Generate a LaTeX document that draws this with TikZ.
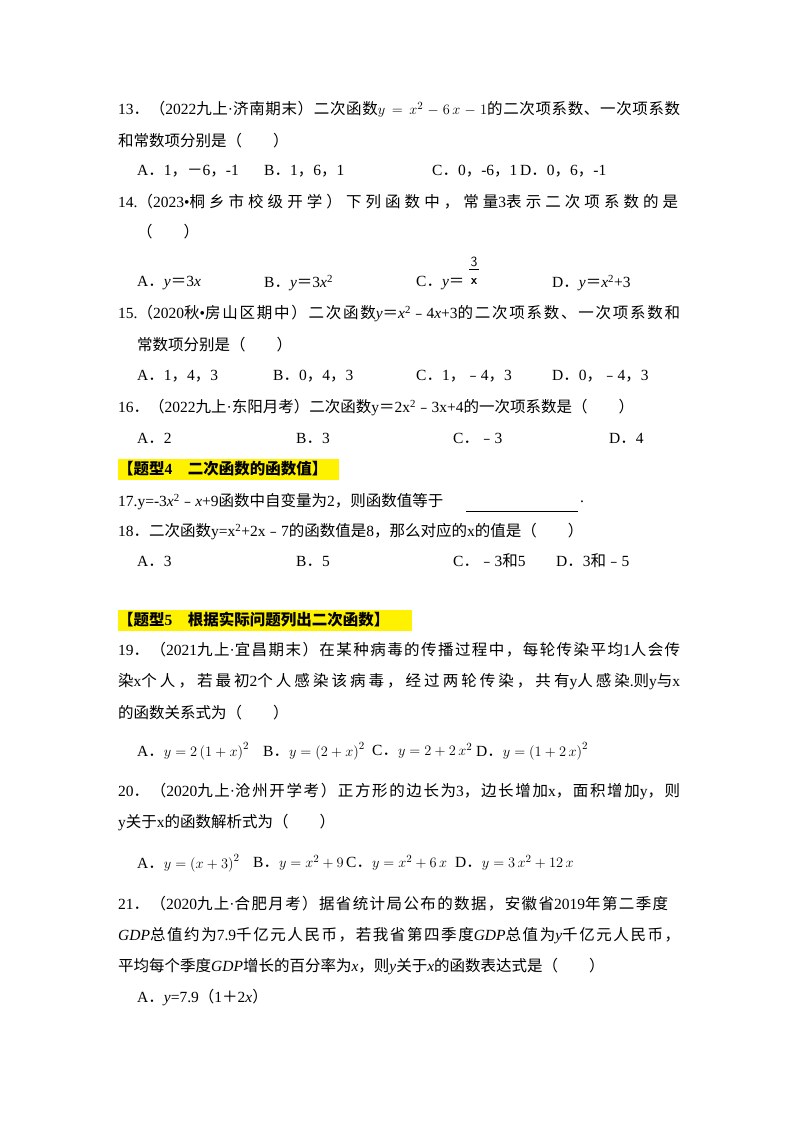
\documentclass[tikz,border=0pt]{standalone}
\usepackage{fontspec}
\setmainfont{Liberation Serif}
\newfontfamily\cjk{Noto Sans CJK SC}
\XeTeXinterchartokenstate=1
\newXeTeXintercharclass\CJKcls
\count255="4E00 \loop \XeTeXcharclass\count255=\CJKcls \ifnum\count255<"9FFF \advance\count255 1 \repeat
\count255="FF00 \loop \XeTeXcharclass\count255=\CJKcls \ifnum\count255<"FFEF \advance\count255 1 \repeat
\count255="3000 \loop \XeTeXcharclass\count255=\CJKcls \ifnum\count255<"303F \advance\count255 1 \repeat
\count255="FE30 \loop \XeTeXcharclass\count255=\CJKcls \ifnum\count255<"FE6F \advance\count255 1 \repeat
\XeTeXinterchartoks 0 \CJKcls = {\cjk}
\XeTeXinterchartoks 4095 \CJKcls = {\cjk}
\XeTeXinterchartoks \CJKcls 0 = {\rmfamily}
\XeTeXinterchartoks \CJKcls 4095 = {\rmfamily}
\XeTeXinterchartoks \CJKcls \CJKcls = {\hskip 0pt plus 1pt}
\newcommand{\fl}[1]{\makebox[562pt][s]{#1}}
\begin{document}
\begin{tikzpicture}[x=1pt,y=-1pt,
  t/.style={anchor=west,inner sep=0pt,font=\fontsize{15.5}{18}\selectfont}]
\useasboundingbox (0,0) rectangle (800,1132);
\fill[yellow] (118,459) rectangle (339,480);
\fill[yellow] (118,610) rectangle (412,631);
% 13
\node[t] (q13a) at (118,109) {\fl{13．（2022九上·济南期末）二次函数$y=x^2-6\,x-1$的二次项系数、一次项系数}};
\node[t] (q13b) at (118,141) {和常数项分别是（　　）};
\node[t] (q13A) at (137,171) {A．1，－6，-1};
\node[t] (q13B) at (264,171) {B．1，6，1};
\node[t] (q13C) at (432,171) {C．0，-6，1};
\node[t] (q13D) at (520,171) {D．0，6，-1};
% 14
\node[t] (q14a) at (118,202) {\makebox[560pt][s]{14.（2023•桐乡市校级开学）下列函数中，常量3表示二次项系数的是}};
\node[t] (q14b) at (137,232) {（　　）};
\node[t] (q14A) at (137,283) {A．\textit{y}＝3\textit{x}};
\node[t] (q14B) at (264,283) {B．\textit{y}＝3\textit{x}\textsuperscript{2}};
\node[t] (q14C) at (416,283) {C．\textit{y}＝};
\node[anchor=center,inner sep=0pt,font=\fontsize{14}{16}\selectfont\sffamily] (q14n) at (474,262) {3};
\node[anchor=center,inner sep=0pt,font=\fontsize{13}{16}\selectfont\sffamily\bfseries] (q14d) at (474,282) {x};
\draw[line width=0.6pt] ([yshift=-2pt,xshift=-5pt]q14n.south) -- ([yshift=-2pt,xshift=5pt]q14n.south);
\node[t] (q14D) at (552,283) {D．\textit{y}＝\textit{x}\textsuperscript{2}+3};
% 15
\node[t] (q15a) at (118,314) {\fl{15.（2020秋•房山区期中）二次函数\textit{y}＝\textit{x}\textsuperscript{2}﹣4\textit{x}+3的二次项系数、一次项系数和}};
\node[t] (q15b) at (137,345) {常数项分别是（　　）};
\node[t] (q15A) at (137,376) {A．1，4，3};
\node[t] (q15B) at (273,376) {B．0，4，3};
\node[t] (q15C) at (416,376) {C．1，﹣4，3};
\node[t] (q15D) at (552,376) {D．0，﹣4，3};
% 16
\node[t] (q16a) at (118,408) {16．（2022九上·东阳月考）二次函数y＝2x\textsuperscript{2}﹣3x+4的一次项系数是（　　）};
\node[t] (q16A) at (137,438) {A．2};
\node[t] (q16B) at (296,438) {B．3};
\node[t] (q16C) at (453,438) {C．﹣3};
\node[t] (q16D) at (609,438) {D．4};
\node[t,font=\fontsize{15.5}{18}\selectfont\bfseries] (h4) at (118,469) {【题型4　二次函数的函数值】};
% 17
\node[t] (q17) at (118,502) {17.y=-3\textit{x}\textsuperscript{2}﹣\textit{x}+9函数中自变量为2，则函数值等于};
\coordinate (u1) at (466,511); \coordinate (u2) at (578,511);
\draw[thin] (u1) -- (u2);
\node[t] (q17e) at (580,502) {.};
% 18
\node[t] (q18) at (118,532) {18．二次函数y=x\textsuperscript{2}+2x﹣7的函数值是8，那么对应的x的值是（　　）};
\node[t] (q18A) at (137,561) {A．3};
\node[t] (q18B) at (296,561) {B．5};
\node[t] (q18C) at (453,561) {C．﹣3和5};
\node[t] (q18D) at (556,561) {D．3和﹣5};
\node[t,font=\fontsize{15.5}{18}\selectfont\bfseries] (h5) at (118,620) {【题型5　根据实际问题列出二次函数】};
% 19
\node[t] (q19a) at (118,650) {\fl{19．（2021九上·宜昌期末）在某种病毒的传播过程中，每轮传染平均1人会传}};
\node[t] (q19b) at (118,682) {\fl{染x个人，若最初2个人感染该病毒，经过两轮传染，共有y人感染.则y与x}};
\node[t] (q19c) at (118,713) {的函数关系式为（　　）};
\node[t] (q19A) at (137,751) {A．$y=2\left(1+x\right)^2$};
\node[t] (q19B) at (263,751) {B．$y=\left(2+x\right)^2$};
\node[t] (q19C) at (372,751) {C．$y=2+2\,x^2$};
\node[t] (q19D) at (476,751) {D．$y=\left(1+2\,x\right)^2$};
% 20
\node[t] (q20a) at (118,792) {\fl{20．（2020九上·沧州开学考）正方形的边长为3，边长增加x，面积增加y，则}};
\node[t] (q20b) at (118,823) {y关于x的函数解析式为（　　）};
\node[t] (q20A) at (137,863) {A．$y=\left(x+3\right)^2$};
\node[t] (q20B) at (253,863) {B．$y=x^2+9$};
\node[t] (q20C) at (346,863) {C．$y=x^2+6\,x$};
\node[t] (q20D) at (455,863) {D．$y=3\,x^2+12\,x$};
% 21
\node[t] (q21a) at (118,904) {\makebox[550pt][s]{21．（2020九上·合肥月考）据省统计局公布的数据，安徽省2019年第二季度}};
\node[t] (q21b) at (118,936) {\fl{\textit{GDP}总值约为7.9千亿元人民币，若我省第四季度\textit{GDP}总值为\textit{y}千亿元人民币，}};
\node[t] (q21c) at (118,967) {平均每个季度\textit{GDP}增长的百分率为\textit{x}，则\textit{y}关于\textit{x}的函数表达式是（　　）};
\node[t] (q21A) at (137,998) {A．\textit{y}=7.9（1＋2\textit{x}）};
\end{tikzpicture}
\end{document}
